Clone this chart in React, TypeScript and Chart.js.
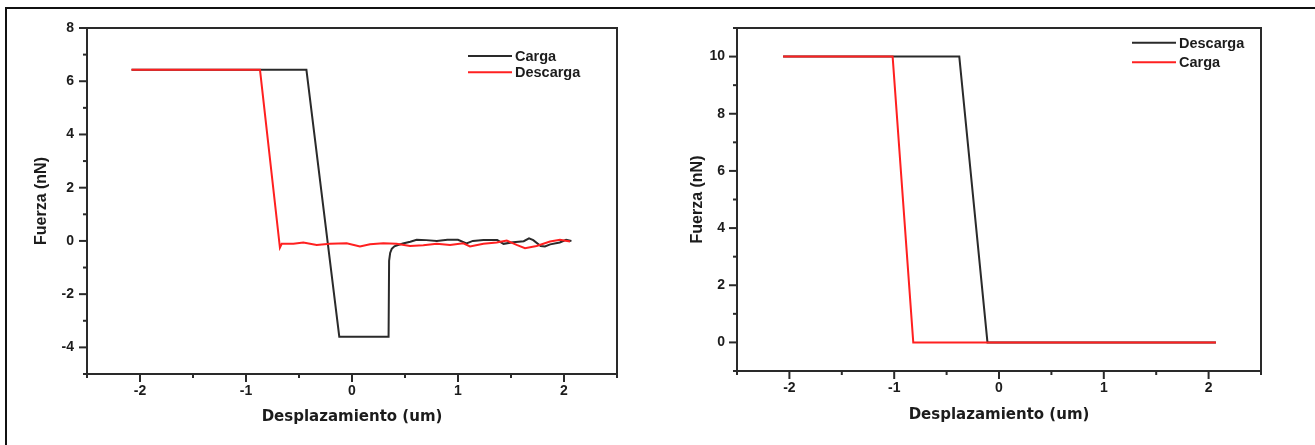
import { useEffect, useRef } from 'react';
import { Chart, registerables } from 'chart.js';

Chart.register(...registerables);

// ---------- tick values ----------
const xTickLabels = [-2, -1, 0, 1, 2];
const xMinorTicks = [-2.5, -1.5, -0.5, 0.5, 1.5, 2.5];
const leftYTickLabels = [-4, -2, 0, 2, 4, 6, 8];
const leftYMinorTicks = [-5, -3, -1, 1, 3, 5, 7];
const rightYTickLabels = [0, 2, 4, 6, 8, 10];
const rightYMinorTicks = [-1, 1, 3, 5, 7, 9, 11];

// ---------- left chart data ----------
const leftCargaX = [-2.08, -0.43, -0.12, 0.345, 0.35, 0.36, 0.375, 0.4, 0.42, 0.48, 0.55, 0.61, 0.7, 0.8, 0.9, 1.0, 1.08, 1.14, 1.24, 1.37, 1.43, 1.52, 1.62, 1.67, 1.71, 1.78, 1.82, 1.87, 1.96, 2.02, 2.07];
const leftCargaY = [6.43, 6.43, -3.6, -3.6, -0.75, -0.45, -0.3, -0.2, -0.17, -0.1, -0.03, 0.04, 0.03, 0.0, 0.04, 0.04, -0.09, 0.0, 0.03, 0.03, -0.11, -0.05, -0.01, 0.1, 0.03, -0.19, -0.21, -0.13, -0.06, 0.04, 0.0];
const leftDescargaX = [-2.08, -0.868, -0.68, -0.663, -0.553, -0.459, -0.333, -0.208, -0.05, 0.075, 0.17, 0.295, 0.42, 0.547, 0.673, 0.8, 0.925, 1.05, 1.113, 1.24, 1.365, 1.46, 1.553, 1.632, 1.742, 1.868, 1.962, 2.057];
const leftDescargaY = [6.43, 6.43, -0.25, -0.11, -0.11, -0.06, -0.15, -0.11, -0.09, -0.21, -0.125, -0.09, -0.11, -0.19, -0.16, -0.11, -0.15, -0.09, -0.21, -0.11, -0.06, 0.015, -0.15, -0.27, -0.19, -0.025, 0.04, -0.025];

// ---------- right chart data ----------
const rightDescargaX = [-2.06, -0.379, -0.11, 2.07];
const rightDescargaY = [10, 10, 0, 0];
const rightCargaX = [-2.06, -1.015, -0.818, 2.07];
const rightCargaY = [10, 10, 0, 0];

const X_TITLE = 'Desplazamiento (um)';
const Y_TITLE = 'Fuerza (nN)';

const BLACK = '#2a2a2a';
const RED = '#ff2020';
const TEXT = '#1c1c1c';
const LABEL_FONT = "'Liberation Sans', Arial, sans-serif";
const TITLE_FONT = "'DejaVu Sans', Verdana, sans-serif";

const pts = (xs: number[], ys: number[]) => xs.map((x, i) => ({ x, y: ys[i] }));

const frameTicksPlugin = {
  id: 'frameTicks',
  afterDraw(chart: any, _args: any, opts: any) {
    const { ctx, chartArea: a, scales } = chart;
    const xs = scales.x;
    const ys = scales.y;
    ctx.save();
    ctx.strokeStyle = BLACK;
    ctx.lineWidth = 2;
    ctx.strokeRect(a.left, a.top, a.right - a.left, a.bottom - a.top);
    const seg = (x1: number, y1: number, x2: number, y2: number) => {
      ctx.beginPath();
      ctx.moveTo(x1, y1);
      ctx.lineTo(x2, y2);
      ctx.stroke();
    };
    (opts.xMajor || []).forEach((v: number) => {
      const p = xs.getPixelForValue(v);
      seg(p, a.bottom, p, a.bottom + 8);
    });
    (opts.xMinor || []).forEach((v: number) => {
      const p = xs.getPixelForValue(v);
      seg(p, a.bottom, p, a.bottom + 4);
    });
    (opts.yMajor || []).forEach((v: number) => {
      const p = ys.getPixelForValue(v);
      seg(a.left - 8, p, a.left, p);
    });
    (opts.yMinor || []).forEach((v: number) => {
      const p = ys.getPixelForValue(v);
      seg(a.left - 4, p, a.left, p);
    });
    // legend
    const lg = opts.legend;
    if (lg) {
      ctx.font = `bold 14.5px ${LABEL_FONT}`;
      ctx.textBaseline = 'middle';
      ctx.textAlign = 'left';
      chart.data.datasets.forEach((ds: any, i: number) => {
        const y = lg.y + i * lg.spacing;
        ctx.strokeStyle = ds.borderColor;
        ctx.lineWidth = 2;
        seg(lg.x, y, lg.x + 44, y);
        ctx.fillStyle = TEXT;
        ctx.fillText(ds.label, lg.x + 47, y + 1);
      });
    }
    ctx.restore();
  },
};

type PanelCfg = {
  datasets: any[];
  yMin: number;
  yMax: number;
  yMajor: number[];
  yMinor: number[];
  yAxisWidth: number;
  xAxisHeight: number;
  padTop: number;
  padRight: number;
  yTickPad: number;
  yTitlePad: number;
  xTitlePad: number;
  legend: { x: number; y: number; spacing: number };
};

function makeConfig(c: PanelCfg): any {
  return {
    type: 'scatter',
    data: { datasets: c.datasets },
    plugins: [frameTicksPlugin],
    options: {
      responsive: false,
      animation: false,
      devicePixelRatio: 1,
      layout: { padding: { left: 0, top: c.padTop, right: c.padRight, bottom: 0 } },
      plugins: {
        legend: { display: false },
        tooltip: { enabled: false },
        frameTicks: {
          xMajor: xTickLabels,
          xMinor: xMinorTicks,
          yMajor: c.yMajor,
          yMinor: c.yMinor,
          legend: c.legend,
        },
      },
      elements: { point: { radius: 0 }, line: { tension: 0 } },
      scales: {
        x: {
          type: 'linear',
          min: -2.5,
          max: 2.5,
          grid: { display: false, drawTicks: false },
          border: { display: false },
          afterBuildTicks: (s: any) => {
            s.ticks = xTickLabels.map((v) => ({ value: v }));
          },
          afterFit: (s: any) => {
            s.height = c.xAxisHeight;
          },
          ticks: {
            padding: 9,
            maxRotation: 0,
            autoSkip: false,
            color: TEXT,
            font: { family: LABEL_FONT, weight: 'bold', size: 14 },
            callback: (v: any) => String(v),
          },
          title: {
            display: true,
            text: X_TITLE,
            color: TEXT,
            font: { family: TITLE_FONT, weight: 'bold', size: 15 },
            padding: { top: 0, bottom: c.xTitlePad },
          },
        },
        y: {
          type: 'linear',
          min: c.yMin,
          max: c.yMax,
          grid: { display: false, drawTicks: false },
          border: { display: false },
          afterBuildTicks: (s: any) => {
            s.ticks = c.yMajor.map((v) => ({ value: v }));
          },
          afterFit: (s: any) => {
            s.width = c.yAxisWidth;
          },
          ticks: {
            padding: c.yTickPad,
            autoSkip: false,
            color: TEXT,
            font: { family: LABEL_FONT, weight: 'bold', size: 14 },
            callback: (v: any) => String(v),
          },
          title: {
            display: true,
            text: Y_TITLE,
            color: TEXT,
            font: { family: LABEL_FONT, weight: 'bold', size: 16 },
            padding: { top: c.yTitlePad, bottom: 0 },
          },
        },
      },
    },
  };
}

function Panel({ left, width, cfg }: { left: number; width: number; cfg: PanelCfg }) {
  const ref = useRef<HTMLCanvasElement>(null);
  useEffect(() => {
    const chart = new Chart(ref.current as HTMLCanvasElement, makeConfig(cfg));
    return () => chart.destroy();
  }, []);
  return (
    <canvas
      ref={ref}
      width={width}
      height={445}
      style={{ position: 'absolute', left, top: 0, width, height: 445 }}
    />
  );
}

const leftCfg: PanelCfg = {
  datasets: [
    { label: 'Carga', data: pts(leftCargaX, leftCargaY), showLine: true, borderColor: BLACK, borderWidth: 2, order: 1 },
    { label: 'Descarga', data: pts(leftDescargaX, leftDescargaY), showLine: true, borderColor: RED, borderWidth: 2, order: 0 },
  ],
  yMin: -5,
  yMax: 8,
  yMajor: leftYTickLabels,
  yMinor: leftYMinorTicks,
  yAxisWidth: 87,
  xAxisHeight: 71,
  padTop: 28,
  padRight: 43,
  yTickPad: 13,
  yTitlePad: 32.4,
  xTitlePad: 18.5,
  legend: { x: 468, y: 56, spacing: 16.3 },
};

const rightCfg: PanelCfg = {
  datasets: [
    { label: 'Descarga', data: pts(rightDescargaX, rightDescargaY), showLine: true, borderColor: BLACK, borderWidth: 2, order: 1 },
    { label: 'Carga', data: pts(rightCargaX, rightCargaY), showLine: true, borderColor: RED, borderWidth: 2, order: 0 },
  ],
  yMin: -1,
  yMax: 11,
  yMajor: rightYTickLabels,
  yMinor: rightYMinorTicks,
  yAxisWidth: 77,
  xAxisHeight: 74,
  padTop: 28,
  padRight: 54,
  yTickPad: 12,
  yTitlePad: 28.4,
  xTitlePad: 21,
  legend: { x: 472, y: 42.7, spacing: 19.6 },
};

export default function App() {
  return (
    <div
      style={{
        position: 'fixed',
        left: 0,
        top: 0,
        width: 1315,
        height: 445,
        overflow: 'hidden',
        background: '#fff',
      }}
    >
      <div
        style={{
          position: 'absolute',
          left: 5,
          top: 7,
          width: 2000,
          height: 1000,
          border: '2px solid #111',
        }}
      />
      <Panel left={0} width={660} cfg={leftCfg} />
      <Panel left={660} width={655} cfg={rightCfg} />
    </div>
  );
}
